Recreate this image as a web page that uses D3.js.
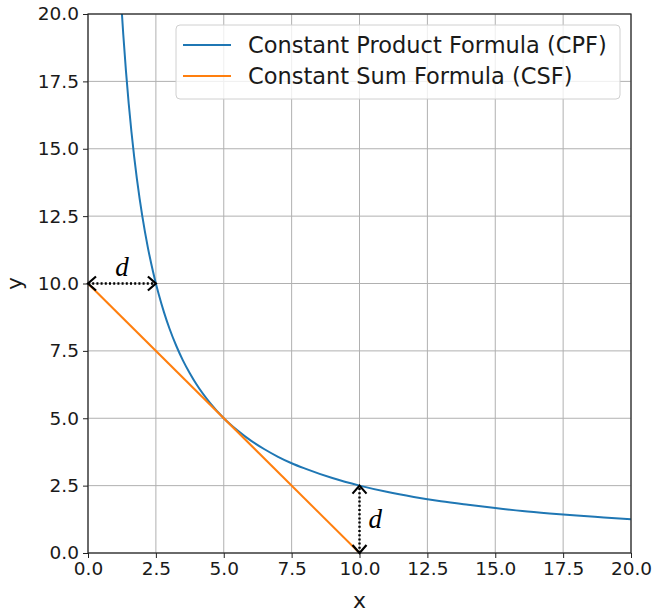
<!DOCTYPE html>
<html><head><meta charset="utf-8">
<script src="https://cdn.jsdelivr.net/npm/d3@7"></script>
<style>body{margin:0;background:#fff;} svg{display:block;}</style>
</head><body><svg id="c" width="652" height="616"></svg>
<script>
// CPF curve points (x*y = 25)
const cpfX = [1.25,1.3,1.4,1.5,1.6,1.7,1.8,1.9,2.0,2.2,2.4,2.5,2.6,2.8,3.0,3.25,3.5,3.75,4.0,4.5,5.0,5.5,6.0,6.5,7.0,7.5,8.0,9.0,10.0,11.0,12.0,13.0,14.0,15.0,16.0,17.0,18.0,19.0,20.0];
const cpfY = [20.0,19.23,17.86,16.67,15.63,14.71,13.89,13.16,12.5,11.36,10.42,10.0,9.62,8.93,8.33,7.69,7.14,6.67,6.25,5.56,5.0,4.55,4.17,3.85,3.57,3.33,3.13,2.78,2.5,2.27,2.08,1.92,1.79,1.67,1.56,1.47,1.39,1.32,1.25];
// CSF line points (x + y = 10)
const csfX = [0, 10];
const csfY = [10, 0];
const seriesNames = ["Constant Product Formula (CPF)", "Constant Sum Formula (CSF)"];
const tickVals = [0,2.5,5,7.5,10,12.5,15,17.5,20];
// annotation arrows: [x1,y1,x2,y2]
const arrowH = [0, 10, 2.5, 10];
const arrowV = [10, 0, 10, 2.5];

const svg = d3.select("#c");
const L=88, R=631, T=14, B=553;
const x = d3.scaleLinear().domain([0,20]).range([L,R]);
const y = d3.scaleLinear().domain([0,20]).range([B,T]);
const font = "DejaVu Sans, sans-serif";

// grid
const g = svg.append("g");
g.selectAll(".gx").data(tickVals).join("line")
  .attr("x1",d=>x(d)).attr("x2",d=>x(d)).attr("y1",T).attr("y2",B)
  .attr("stroke","#b0b0b0").attr("stroke-width",1);
g.selectAll(".gy").data(tickVals).join("line")
  .attr("y1",d=>y(d)).attr("y2",d=>y(d)).attr("x1",L).attr("x2",R)
  .attr("stroke","#b0b0b0").attr("stroke-width",1);

svg.append("defs").append("clipPath").attr("id","clip").append("rect")
  .attr("x",L).attr("y",T).attr("width",R-L).attr("height",B-T);

const line = d3.line().x(d=>x(d[0])).y(d=>y(d[1])).curve(d3.curveMonotoneX);
const cpf = cpfX.map((v,i)=>[v,cpfY[i]]);
const csf = csfX.map((v,i)=>[v,csfY[i]]);
svg.append("path").datum(cpf).attr("d",line).attr("fill","none")
  .attr("stroke","#1f77b4").attr("stroke-width",2).attr("clip-path","url(#clip)");
svg.append("path").datum(csf).attr("d",line).attr("fill","none")
  .attr("stroke","#ff7f0e").attr("stroke-width",2).attr("clip-path","url(#clip)");

// axes
const xa = svg.append("g").attr("transform",`translate(0,${B})`)
  .call(d3.axisBottom(x).tickValues(tickVals).tickFormat(d3.format(".1f")).tickSize(5).tickPadding(4));
const ya = svg.append("g").attr("transform",`translate(${L},0)`)
  .call(d3.axisLeft(y).tickValues(tickVals).tickFormat(d3.format(".1f")).tickSize(5).tickPadding(4));
[xa,ya].forEach(a=>{
  a.selectAll("text").attr("font-family",font).attr("font-size",18.5).attr("fill","#1a1a1a");
  a.selectAll("line").attr("stroke","#222");
  a.select(".domain").remove();
});
svg.append("rect").attr("x",L).attr("y",T).attr("width",R-L).attr("height",B-T)
  .attr("fill","none").attr("stroke","#222").attr("stroke-width",1.2);

svg.append("text").attr("x",(L+R)/2).attr("y",608).attr("text-anchor","middle")
  .attr("font-family",font).attr("font-size",22).attr("fill","#1a1a1a").text("x");
svg.append("text").attr("transform",`translate(22,${(T+B)/2}) rotate(-90)`).attr("text-anchor","middle")
  .attr("font-family",font).attr("font-size",22).attr("fill","#1a1a1a").text("y");

// arrows
const defs = svg.select("defs");
["s","e"].forEach(k=>{
  defs.append("marker").attr("id","m"+k).attr("viewBox","-10 -10 20 20")
    .attr("markerWidth",20).attr("markerHeight",20).attr("markerUnits","userSpaceOnUse")
    .attr("orient", k==="s" ? "auto-start-reverse" : "auto").attr("refX",0).attr("refY",0)
    .append("path").attr("d","M-8,-7 L0,0 L-8,7").attr("fill","none").attr("stroke","#000").attr("stroke-width",2.2);
});
[arrowH, arrowV].forEach(a=>{
  svg.append("line").attr("x1",x(a[0])).attr("y1",y(a[1])).attr("x2",x(a[2])).attr("y2",y(a[3]))
    .attr("stroke","#000").attr("stroke-width",2.4).attr("stroke-dasharray","2,2.2")
    .attr("marker-start","url(#ms)").attr("marker-end","url(#me)");
});
svg.append("text").attr("x",(x(arrowH[0])+x(arrowH[2]))/2).attr("y",y(arrowH[1])-8).attr("text-anchor","middle")
  .attr("font-family","Liberation Serif, DejaVu Serif, serif").attr("font-style","italic").attr("font-size",27).text("d");
svg.append("text").attr("x",x(arrowV[0])+9).attr("y",(y(arrowV[1])+y(arrowV[3]))/2+9)
  .attr("font-family","Liberation Serif, DejaVu Serif, serif").attr("font-style","italic").attr("font-size",27).text("d");

// legend
const lg = svg.append("g");
lg.append("rect").attr("x",176).attr("y",25).attr("width",444).attr("height",74).attr("rx",4)
  .attr("fill","rgba(255,255,255,0.8)").attr("stroke","#d0d0d0").attr("stroke-width",1);
const colors = ["#1f77b4","#ff7f0e"];
seriesNames.forEach((n,i)=>{
  const yy = 45 + i*31;
  lg.append("line").attr("x1",183).attr("x2",231).attr("y1",yy).attr("y2",yy).attr("stroke",colors[i]).attr("stroke-width",2);
  lg.append("text").attr("x",248).attr("y",yy+8).attr("font-family",font).attr("font-size",22.5)
    .attr("fill","#1a1a1a").text(n);
});
</script></body></html>
